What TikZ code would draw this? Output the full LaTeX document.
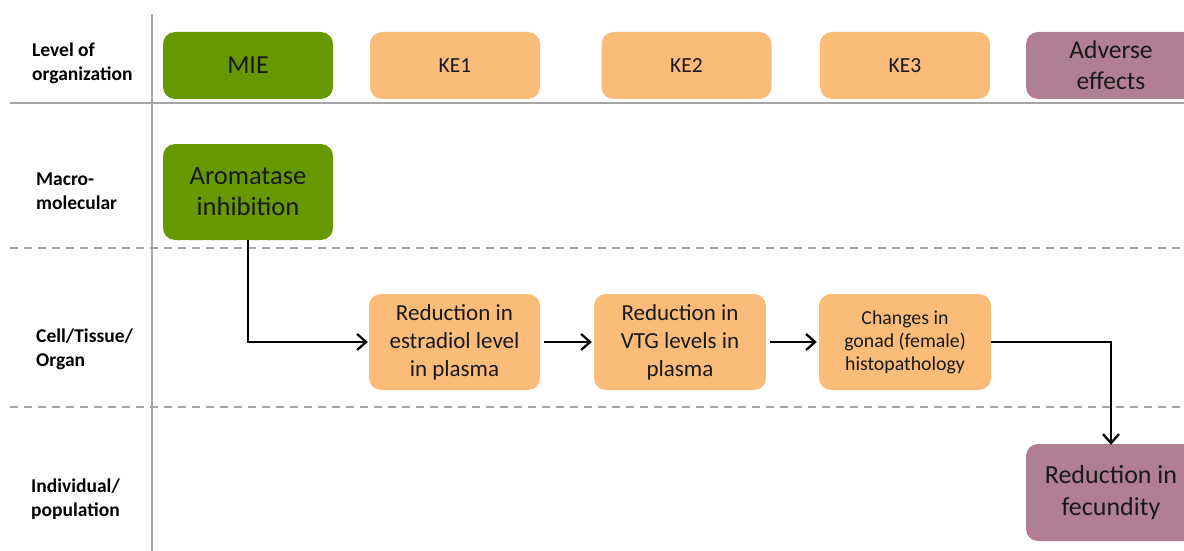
\documentclass[tikz,border=0pt]{standalone}
\usepackage{fontspec}
\setmainfont{Carlito}
\usetikzlibrary{arrows.meta}
\definecolor{miegreen}{RGB}{102,153,0}
\definecolor{keorange}{RGB}{251,188,122}
\definecolor{aopurple}{RGB}{176,127,147}
\definecolor{gridgray}{RGB}{165,165,165}
\tikzset{
  box/.style={rounded corners=12pt, inner sep=0pt, align=center, minimum width=170pt, text=black!90},
  hdr/.style={box, minimum height=67pt},
  evt/.style={box, minimum height=96pt},
  lvl/.style={anchor=west, align=left, inner sep=0pt, font=\fontsize{19.5}{24}\selectfont\bfseries},
  grid/.style={draw=gridgray, line width=2pt},
  flow/.style={draw=black, line width=2.3pt, -{Straight Barb[length=9pt,width=16pt,line width=2.3pt]}},
}
\begin{document}
\begin{tikzpicture}[x=1pt,y=-1pt]
\useasboundingbox (0,0) rectangle (1184,551);
\clip (0,0) rectangle (1184,551);
% grid
\draw[grid] (152,14) -- (152,551);
\draw[grid] (10,103) -- (1184,103);
\draw[grid, line width=1.5pt, dash pattern=on 8pt off 6pt] (10,248) -- (1184,248);
\draw[grid, line width=1.5pt, dash pattern=on 8pt off 6pt] (10,407) -- (1184,407);
% row labels
\node[lvl] (l1) at (32,63) {Level of\\organization};
\node[lvl] (l2) at (36,191) {Macro-\\molecular};
\node[lvl] (l3) at (36,349) {Cell/Tissue/\\Organ};
\node[lvl] (l4) at (31,499) {Individual/\\population};
% header boxes
\node[hdr, fill=miegreen, font=\fontsize{26}{31}\selectfont] (mie) at (248,65.5) {MIE};
\node[hdr, fill=keorange, font=\fontsize{21.5}{27}\selectfont] (ke1) at (455,65.5) {KE1};
\node[hdr, fill=keorange, font=\fontsize{21.5}{27}\selectfont] (ke2) at (686.5,65.5) {KE2};
\node[hdr, fill=keorange, font=\fontsize{21.5}{27}\selectfont] (ke3) at (905,65.5) {KE3};
\node[hdr, fill=aopurple, font=\fontsize{25.5}{31}\selectfont] (ao) at (1111,65.5) {Adverse\\effects};
% events
\node[evt, fill=miegreen, font=\fontsize{26.5}{31}\selectfont] (arom) at (248,192) {Aromatase\\inhibition};
\node[evt, fill=keorange, minimum width=171pt, font=\fontsize{23}{28}\selectfont] (est) at (454.5,342) {Reduction in\\estradiol level\\in plasma};
\node[evt, fill=keorange, minimum width=172pt, font=\fontsize{23}{28}\selectfont] (vtg) at (680,342) {Reduction in\\VTG levels in\\plasma};
\node[evt, fill=keorange, minimum width=172pt, font=\fontsize{19.8}{23}\selectfont] (chg) at (905,342) {Changes in\\gonad (female)\\histopathology};
\node[evt, fill=aopurple, minimum height=97pt, font=\fontsize{26}{32}\selectfont] (fec) at (1111,492.5) {Reduction in\\fecundity};
% connectors
\draw[flow] (arom.south) |- ([xshift=-1pt]est.west);
\draw[flow] ([xshift=4pt]est.east) -- ([xshift=-2pt]vtg.west);
\draw[flow] ([xshift=4pt]vtg.east) -- ([xshift=-2pt]chg.west);
\draw[flow] (chg.east) -| ([yshift=-1pt]fec.north);
\end{tikzpicture}
\end{document}
